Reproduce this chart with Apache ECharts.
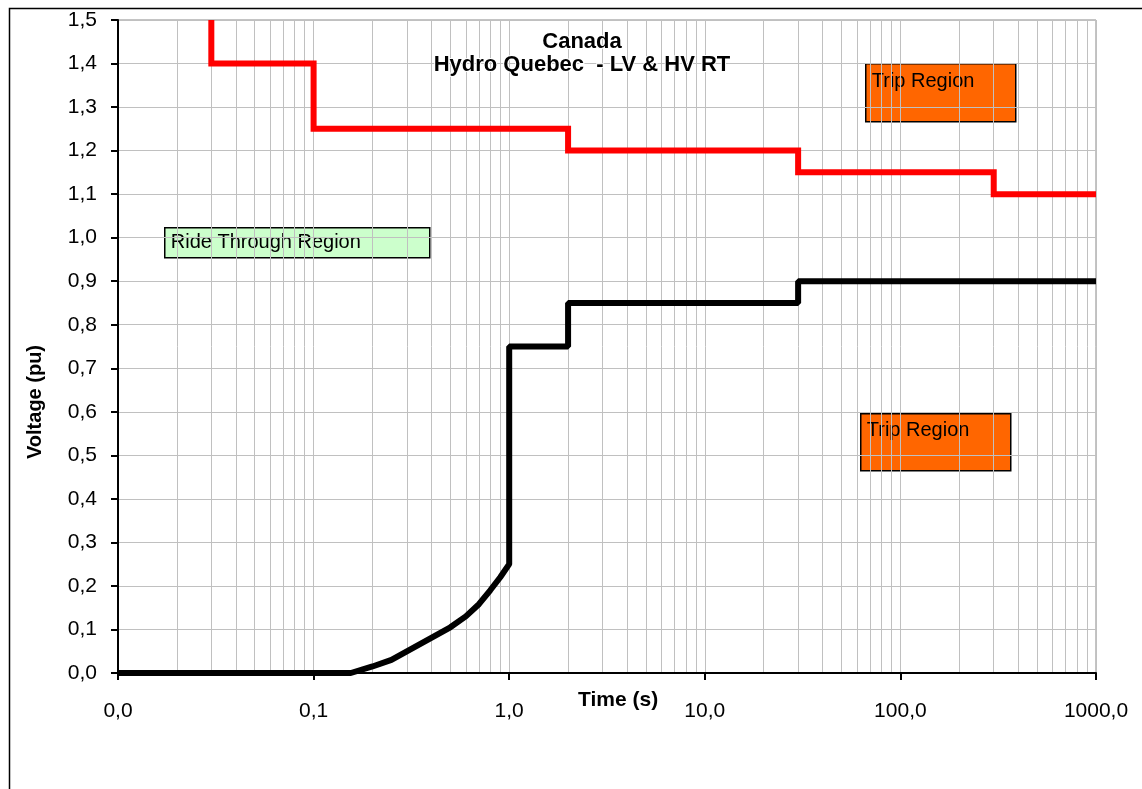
<!DOCTYPE html>
<html>
<head>
<meta charset="utf-8">
<script src="https://cdn.jsdelivr.net/npm/echarts@6/dist/echarts.min.js"></script>
<style>
html,body{margin:0;padding:0;background:#fff;}
#chart{width:1142px;height:789px;}
</style>
</head>
<body>
<div id="chart"></div>
<script>
// ---- data ----
const titleLines = ['Canada', 'Hydro Quebec  - LV & HV RT'];
const xAxisName = 'Time (s)';
const yAxisName = 'Voltage (pu)';
// HV (upper) ride-through limit
const hvTimes = [0.03, 0.03, 0.1, 0.1, 2, 2, 30, 30, 300, 300, 1000];
const hvVolts = [1.5, 1.4, 1.4, 1.25, 1.25, 1.2, 1.2, 1.15, 1.15, 1.1, 1.1];
// LV (lower) ride-through limit
const lvTimes = [0.01, 0.155, 0.2, 0.25, 0.5, 0.6, 0.7, 0.8, 0.9, 1, 1, 2, 2, 30, 30, 1000];
const lvVolts = [0, 0, 0.015, 0.03, 0.105, 0.13, 0.158, 0.19, 0.22, 0.25, 0.75, 0.75, 0.85, 0.85, 0.9, 0.9];
// minor log grid lines (2..9 within each decade)
const decades = [0.01, 0.1, 1, 10, 100];
const minorMultipliers = [2, 3, 4, 5, 6, 7, 8, 9];
const annotations = [
  {text: 'Trip Region', fill: '#FF6600'},
  {text: 'Trip Region', fill: '#FF6600'},
  {text: 'Ride Through Region', fill: '#CCFFCC'}
];

const hvData = hvTimes.map((t, i) => [t, hvVolts[i]]);
const lvData = lvTimes.map((t, i) => [t, lvVolts[i]]);
const minorLines = [];
decades.forEach(d => minorMultipliers.forEach(m => minorLines.push({xAxis: +(d * m).toPrecision(6)})));

const FONT = '"Liberation Sans", Arial, sans-serif';
const fmt = v => Number(v).toFixed(1).replace('.', ',');

function box(x, y, w, h, a, ty) {
  return {
    type: 'group', left: x, top: y, z: 100,
    children: [
      {type: 'rect', shape: {x: 0, y: 0, width: w, height: h},
       style: {fill: a.fill, stroke: '#000', lineWidth: 1.5}},
      {type: 'text', x: 6, y: ty,
       style: {text: a.text, fill: '#000', font: '20px ' + FONT, textVerticalAlign: 'top'}}
    ]
  };
}

const chart = echarts.init(document.getElementById('chart'), null, {renderer: 'canvas'});
chart.setOption({
  backgroundColor: '#fff',
  animation: false,
  title: {
    text: titleLines.join('\n'),
    left: 577, top: 25, textAlign: 'center', z: 50,
    textStyle: {fontFamily: FONT, fontWeight: 'bold', fontSize: 22, lineHeight: 23, color: '#000',
                textBorderColor: '#fff', textBorderWidth: 2}
  },
  grid: {left: 118, right: 46, top: 20, bottom: 116, show: true, borderColor: '#888', borderWidth: 1, backgroundColor: 'transparent'},
  xAxis: {
    type: 'log', logBase: 10, min: 0.01, max: 1000, z: 10,
    axisLine: {show: true, lineStyle: {color: '#000', width: 2}},
    axisTick: {show: true, length: 7, lineStyle: {color: '#000', width: 2}},
    axisLabel: {formatter: fmt, fontFamily: FONT, fontSize: 21, color: '#000', margin: 28},
    splitLine: {show: true, lineStyle: {color: '#c0c0c0', width: 1}},
    minorTick: {show: false}, minorSplitLine: {show: false}
  },
  yAxis: {
    type: 'value', min: 0, max: 1.5, interval: 0.1, z: 10,
    axisLine: {show: true, lineStyle: {color: '#000', width: 2}},
    axisTick: {show: true, length: 7, lineStyle: {color: '#000', width: 2}},
    axisLabel: {formatter: fmt, fontFamily: FONT, fontSize: 21, color: '#000', margin: 21},
    splitLine: {show: true, lineStyle: {color: '#c0c0c0', width: 1}}
  },
  graphic: [
    {type: 'rect', left: 7, top: 6, z: -10, silent: true,
     shape: {x: 0, y: 0, width: 1300, height: 900},
     style: {fill: 'none', stroke: '#000', lineWidth: 1.5}},
    {type: 'text', left: 578, top: 690, z: 100,
     style: {text: xAxisName, font: 'bold 21px ' + FONT, fill: '#000'}},
    {type: 'text', x: 25, y: 402, rotation: Math.PI / 2, z: 100,
     style: {text: yAxisName, font: 'bold 20px ' + FONT, fill: '#000', textAlign: 'center', textVerticalAlign: 'top'}},
    box(865, 63, 150, 58, annotations[0], 8),
    box(860, 413, 150, 57, annotations[1], 7),
    box(164, 227, 265, 30, annotations[2], 5)
  ],
  series: [
    {
      type: 'line', data: [[1000, 0]], showSymbol: false, symbol: 'none',
      lineStyle: {width: 0}, silent: true, z: 0,
      markLine: {
        silent: true, symbol: ['none', 'none'], animation: false,
        label: {show: false},
        lineStyle: {color: '#c0c0c0', width: 1, type: 'solid'},
        emphasis: {disabled: true},
        data: minorLines
      }
    },
    {
      name: 'HV', type: 'line', data: hvData, showSymbol: false, symbol: 'none',
      lineStyle: {color: '#FF0000', width: 6, join: 'miter'}, z: 20
    },
    {
      name: 'LV', type: 'line', data: lvData, showSymbol: false, symbol: 'none',
      lineStyle: {color: '#000000', width: 6}, z: 20
    }
  ]
});
</script>
</body>
</html>
